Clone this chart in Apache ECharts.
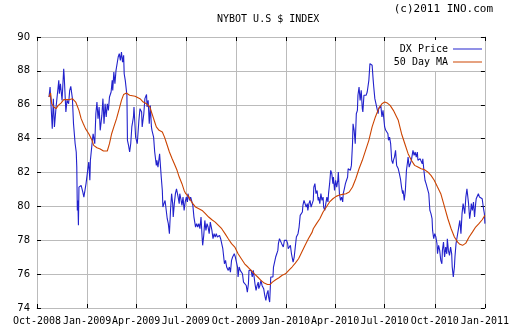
<!DOCTYPE html>
<html>
<head>
<meta charset="utf-8">
<script src="https://cdn.jsdelivr.net/npm/echarts@6/dist/echarts.min.js"></script>
<style>html,body{margin:0;padding:0;background:#fff}#c{width:512px;height:335px}</style>
</head>
<body>
<div id="c"></div>
<script>
const titleText = 'NYBOT U.S $ INDEX';
const creditText = '(c)2011 INO.com';
const seriesNames = ['DX Price', '50 Day MA'];
const monthNames = ['Jan','Feb','Mar','Apr','May','Jun','Jul','Aug','Sep','Oct','Nov','Dec'];
const xRange = ['2008-10-01', '2011-01-01'];
const yTicks = [74, 76, 78, 80, 82, 84, 86, 88, 90];

const dxPrice = [
['2008-10-23',86.46],['2008-10-25',87.05],['2008-10-29',84.59],['2008-10-31',86.36],
['2008-11-02',84.69],['2008-11-05',85.87],['2008-11-10',87.44],['2008-11-11',86.65],['2008-11-13',87.24],
['2008-11-16',86.26],['2008-11-19',88.13],['2008-11-20',87.64],['2008-11-23',85.57],['2008-11-25',86.26],
['2008-11-28',86.06],['2008-11-30',86.85],['2008-12-02',87.09],['2008-12-05',86.36],['2008-12-07',84.88],
['2008-12-10',83.70],['2008-12-12',83.21],['2008-12-13',82.32],['2008-12-14',79.76],['2008-12-15',80.35],
['2008-12-16',78.88],['2008-12-17',81.14],['2008-12-19',81.04],['2008-12-21',81.24],['2008-12-24',80.85],
['2008-12-26',80.55],['2008-12-28',80.94],['2008-12-30',81.34],
['2009-01-02',82.13],['2009-01-04',82.62],['2009-01-06',81.54],['2009-01-07',82.72],['2009-01-10',83.70],
['2009-01-12',84.29],['2009-01-13',84.09],['2009-01-15',83.70],['2009-01-17',85.47],['2009-01-19',86.16],
['2009-01-21',85.18],['2009-01-23',85.87],['2009-01-25',84.49],['2009-01-28',85.37],['2009-01-30',86.36],
['2009-02-01',84.88],['2009-02-03',86.06],['2009-02-05',85.28],['2009-02-07',86.06],['2009-02-09',85.67],
['2009-02-11',86.46],['2009-02-14',86.75],['2009-02-16',87.44],['2009-02-17',86.85],['2009-02-19',87.93],
['2009-02-21',87.24],['2009-02-23',88.03],['2009-02-25',88.03],['2009-02-27',88.82],
['2009-03-01',89.02],['2009-03-03',88.62],['2009-03-05',89.11],['2009-03-07',88.52],['2009-03-09',88.92],
['2009-03-10',87.83],['2009-03-12',87.44],['2009-03-15',86.56],['2009-03-16',83.90],['2009-03-18',83.60],
['2009-03-20',83.21],['2009-03-22',83.70],['2009-03-24',84.69],['2009-03-27',85.28],['2009-03-28',85.87],
['2009-03-30',85.96],['2009-03-31',84.09],
['2009-04-03',83.70],['2009-04-06',85.08],['2009-04-08',85.77],['2009-04-11',85.57],['2009-04-12',84.69],
['2009-04-15',85.47],['2009-04-17',86.36],['2009-04-20',86.61],['2009-04-21',85.87],['2009-04-23',86.26],
['2009-04-25',84.88],['2009-04-27',85.96],['2009-04-29',84.69],['2009-04-30',84.49],
['2009-05-03',84.09],['2009-05-05',83.21],['2009-05-08',82.42],['2009-05-09',82.72],['2009-05-11',82.32],
['2009-05-14',83.11],['2009-05-16',83.21],['2009-05-17',81.73],['2009-05-19',80.94],['2009-05-20',79.96],
['2009-05-22',80.16],['2009-05-24',80.35],['2009-05-26',80.35],['2009-05-28',79.27],['2009-05-30',78.98],
['2009-06-01',78.39],['2009-06-03',79.76],['2009-06-05',80.75],['2009-06-07',80.16],['2009-06-08',79.37],
['2009-06-10',80.16],['2009-06-12',80.75],['2009-06-14',81.04],['2009-06-17',80.55],['2009-06-19',80.16],
['2009-06-20',80.75],['2009-06-22',80.45],['2009-06-24',80.06],['2009-06-26',80.55],['2009-06-28',79.76],
['2009-06-30',80.26],
['2009-07-02',80.55],['2009-07-04',80.26],['2009-07-05',80.75],['2009-07-08',80.35],['2009-07-10',80.55],
['2009-07-11',80.45],['2009-07-14',80.06],['2009-07-16',79.37],['2009-07-19',78.78],['2009-07-21',78.98],
['2009-07-23',78.78],['2009-07-25',78.98],['2009-07-27',78.68],['2009-07-29',79.37],['2009-07-31',78.19],
['2009-08-01',77.70],['2009-08-03',78.29],['2009-08-05',79.17],['2009-08-07',78.58],['2009-08-09',78.98],
['2009-08-11',78.78],['2009-08-13',78.39],['2009-08-15',79.07],['2009-08-17',79.17],['2009-08-18',78.58],
['2009-08-20',78.09],['2009-08-22',78.39],['2009-08-24',78.19],['2009-08-26',78.39],['2009-08-28',78.19],
['2009-08-30',78.09],
['2009-09-01',78.29],['2009-09-03',78.09],['2009-09-05',78.00],['2009-09-07',77.50],['2009-09-08',77.20],
['2009-09-10',76.61],['2009-09-12',76.81],['2009-09-14',76.42],['2009-09-16',76.52],['2009-09-17',76.22],
['2009-09-19',76.42],['2009-09-21',76.12],['2009-09-23',76.81],['2009-09-25',77.01],['2009-09-26',77.11],
['2009-09-28',77.20],['2009-09-30',77.01],
['2009-10-02',76.91],['2009-10-04',76.42],['2009-10-05',75.83],['2009-10-07',76.42],['2009-10-09',76.22],
['2009-10-11',76.32],['2009-10-13',76.02],['2009-10-15',75.53],['2009-10-16',75.43],['2009-10-18',75.63],
['2009-10-20',75.33],['2009-10-22',74.94],['2009-10-24',75.43],['2009-10-25',76.22],['2009-10-27',76.32],
['2009-10-29',76.22],['2009-10-31',75.83],
['2009-11-02',76.22],['2009-11-03',76.12],['2009-11-05',75.43],['2009-11-07',75.04],['2009-11-09',75.33],
['2009-11-11',75.53],['2009-11-12',75.14],['2009-11-14',75.33],['2009-11-16',75.63],['2009-11-18',75.33],
['2009-11-20',75.43],['2009-11-21',75.14],['2009-11-23',74.74],['2009-11-25',74.45],['2009-11-27',74.84],
['2009-11-29',75.04],['2009-11-30',74.65],
['2009-12-02',74.35],['2009-12-04',75.83],['2009-12-06',75.93],['2009-12-08',75.83],['2009-12-09',76.42],
['2009-12-11',76.52],['2009-12-13',77.01],['2009-12-15',77.20],['2009-12-17',77.40],['2009-12-18',77.80],
['2009-12-20',78.09],['2009-12-22',78.19],['2009-12-24',77.80],['2009-12-26',77.89],['2009-12-27',77.60],
['2009-12-29',77.99],['2009-12-31',78.09],
['2010-01-02',77.99],['2010-01-04',77.80],['2010-01-05',77.50],['2010-01-07',77.40],['2010-01-09',77.70],
['2010-01-11',77.20],['2010-01-13',77.11],['2010-01-14',76.71],['2010-01-16',77.01],['2010-01-18',77.60],
['2010-01-20',78.19],['2010-01-22',78.29],['2010-01-23',78.39],['2010-01-25',78.78],['2010-01-27',79.47],
['2010-01-29',79.57],['2010-01-31',79.67],
['2010-02-01',80.06],['2010-02-03',80.35],['2010-02-05',80.26],['2010-02-07',79.96],['2010-02-09',80.16],
['2010-02-10',79.76],['2010-02-12',80.16],['2010-02-14',80.35],['2010-02-16',79.96],['2010-02-18',80.16],
['2010-02-20',80.35],['2010-02-21',81.14],['2010-02-23',81.34],['2010-02-25',80.75],['2010-02-27',80.94],
['2010-03-01',80.35],['2010-03-02',80.55],['2010-03-04',80.16],['2010-03-06',80.75],['2010-03-08',80.35],
['2010-03-10',80.55],['2010-03-11',79.96],['2010-03-13',79.76],['2010-03-15',80.16],['2010-03-17',80.55],
['2010-03-19',80.26],['2010-03-20',80.75],['2010-03-22',81.34],['2010-03-24',82.13],['2010-03-26',81.93],
['2010-03-28',81.34],['2010-03-29',81.73],['2010-03-31',80.94],
['2010-04-02',81.54],['2010-04-04',81.14],['2010-04-06',81.54],['2010-04-07',82.03],['2010-04-09',80.75],
['2010-04-11',80.35],['2010-04-13',80.55],['2010-04-15',80.26],['2010-04-16',80.75],['2010-04-18',81.04],
['2010-04-20',81.34],['2010-04-22',81.54],['2010-04-24',81.73],['2010-04-25',82.22],['2010-04-27',82.32],
['2010-04-29',82.13],
['2010-05-01',82.42],['2010-05-03',83.70],['2010-05-04',84.88],['2010-05-06',84.49],['2010-05-08',83.70],
['2010-05-10',85.47],['2010-05-12',85.67],['2010-05-13',86.56],['2010-05-15',87.05],['2010-05-17',86.26],
['2010-05-19',86.85],['2010-05-21',85.77],['2010-05-22',85.57],['2010-05-24',86.56],['2010-05-26',86.65],
['2010-05-28',86.56],['2010-05-30',86.75],['2010-05-31',86.65],
['2010-06-02',87.44],['2010-06-04',88.43],['2010-06-06',88.52],['2010-06-08',88.33],['2010-06-10',87.44],
['2010-06-11',87.05],['2010-06-13',86.36],['2010-06-15',86.26],['2010-06-17',85.77],['2010-06-19',85.47],
['2010-06-20',85.77],['2010-06-22',85.87],['2010-06-24',85.96],['2010-06-26',85.28],['2010-06-28',85.67],
['2010-06-29',85.77],
['2010-07-01',84.69],['2010-07-03',84.49],['2010-07-05',84.59],['2010-07-07',84.29],['2010-07-08',83.90],
['2010-07-10',84.09],['2010-07-12',83.70],['2010-07-14',82.72],['2010-07-16',82.52],['2010-07-17',82.72],
['2010-07-19',82.91],['2010-07-21',83.31],['2010-07-23',82.42],['2010-07-25',82.52],['2010-07-26',82.22],
['2010-07-28',81.93],['2010-07-30',81.63],
['2010-08-01',81.14],['2010-08-03',80.75],['2010-08-04',80.94],['2010-08-06',80.35],['2010-08-08',80.94],
['2010-08-10',82.13],['2010-08-12',82.62],['2010-08-13',82.91],['2010-08-15',82.32],['2010-08-17',82.42],
['2010-08-19',82.72],['2010-08-21',83.11],['2010-08-22',83.31],['2010-08-24',83.01],['2010-08-26',83.21],
['2010-08-28',82.91],['2010-08-30',83.21],['2010-08-31',82.72],
['2010-09-02',82.72],['2010-09-04',82.81],['2010-09-06',82.91],['2010-09-08',82.52],['2010-09-09',82.81],
['2010-09-11',82.13],['2010-09-13',81.54],['2010-09-15',81.34],['2010-09-17',81.44],['2010-09-18',81.24],
['2010-09-20',80.75],['2010-09-22',79.76],['2010-09-24',79.57],['2010-09-26',79.27],['2010-09-27',78.58],
['2010-09-29',78.09],
['2010-10-01',78.39],['2010-10-03',78.19],['2010-10-05',77.80],['2010-10-06',77.20],['2010-10-08',77.70],
['2010-10-10',77.40],['2010-10-12',76.81],['2010-10-14',76.61],['2010-10-15',77.40],['2010-10-17',77.89],
['2010-10-19',77.01],['2010-10-21',77.60],['2010-10-23',77.20],['2010-10-24',78.09],['2010-10-26',77.40],
['2010-10-28',77.11],['2010-10-30',77.60],
['2010-11-01',77.20],['2010-11-02',76.42],['2010-11-04',75.83],['2010-11-06',76.42],['2010-11-07',77.01],
['2010-11-09',77.80],['2010-11-11',78.19],['2010-11-13',78.58],['2010-11-15',78.98],['2010-11-16',79.17],
['2010-11-18',78.39],['2010-11-20',79.57],['2010-11-22',80.16],['2010-11-24',79.76],['2010-11-25',79.57],
['2010-11-27',80.55],['2010-11-29',81.04],['2010-11-30',81.14],
['2010-12-02',80.16],['2010-12-04',79.27],['2010-12-06',79.76],['2010-12-07',80.16],['2010-12-09',79.76],
['2010-12-11',80.26],['2010-12-13',79.37],['2010-12-15',80.16],['2010-12-16',80.45],['2010-12-18',80.55],
['2010-12-20',80.75],['2010-12-22',80.55],['2010-12-24',80.45],['2010-12-25',80.65],['2010-12-27',80.45],
['2010-12-29',79.96],['2010-12-31',79.57],['2011-01-01',78.98]
];

const ma50 = [
['2008-10-23',86.46],['2008-10-26',86.69],['2008-10-28',86.06],['2008-11-01',85.87],['2008-11-05',85.77],
['2008-11-09',85.96],['2008-11-14',86.10],['2008-11-19',86.30],['2008-11-23',86.30],['2008-11-29',86.30],
['2008-12-05',86.36],['2008-12-11',86.16],['2008-12-14',86.06],['2008-12-17',85.67],['2008-12-21',85.18],
['2008-12-25',84.88],['2008-12-29',84.59],['2009-01-04',84.29],['2009-01-10',83.90],['2009-01-13',83.60],
['2009-01-19',83.46],['2009-01-25',83.39],['2009-01-31',83.27],['2009-02-07',83.27],['2009-02-11',83.70],
['2009-02-15',84.29],['2009-02-19',84.69],['2009-02-24',85.18],['2009-03-01',85.77],['2009-03-05',86.26],
['2009-03-09',86.61],['2009-03-14',86.69],['2009-03-20',86.56],['2009-03-30',86.50],['2009-04-02',86.40],
['2009-04-08',86.36],['2009-04-14',86.16],['2009-04-20',86.06],['2009-04-26',85.87],['2009-04-29',85.57],
['2009-05-02',85.28],['2009-05-05',84.98],['2009-05-08',84.69],['2009-05-13',84.49],['2009-05-19',84.39],
['2009-05-23',84.09],['2009-05-26',83.80],['2009-06-01',83.21],['2009-06-06',82.81],['2009-06-10',82.52],
['2009-06-15',82.13],['2009-06-19',81.73],['2009-06-24',81.34],['2009-06-28',80.94],['2009-07-01',80.75],
['2009-07-06',80.59],['2009-07-10',80.35],['2009-07-14',80.16],['2009-07-19',79.96],['2009-07-25',79.86],
['2009-07-31',79.76],['2009-08-06',79.57],['2009-08-12',79.37],['2009-08-18',79.21],['2009-08-24',79.07],
['2009-08-30',78.88],['2009-09-05',78.68],['2009-09-11',78.39],['2009-09-17',78.09],['2009-09-23',77.80],
['2009-09-29',77.60],['2009-10-05',77.20],['2009-10-11',76.91],['2009-10-17',76.61],['2009-10-23',76.42],
['2009-10-29',76.22],['2009-11-04',76.02],['2009-11-10',75.83],['2009-11-16',75.63],['2009-11-22',75.47],
['2009-11-28',75.39],['2009-12-03',75.39],['2009-12-07',75.53],['2009-12-13',75.67],['2009-12-19',75.79],
['2009-12-25',75.93],['2009-12-31',76.02],['2010-01-06',76.22],['2010-01-12',76.42],['2010-01-18',76.65],
['2010-01-24',76.91],['2010-01-30',77.30],['2010-02-05',77.70],['2010-02-11',78.09],['2010-02-18',78.48],
['2010-02-20',78.68],['2010-02-26',78.98],['2010-03-04',79.27],['2010-03-10',79.67],['2010-03-16',79.96],
['2010-03-22',80.26],['2010-03-28',80.45],['2010-04-03',80.59],['2010-04-09',80.67],['2010-04-15',80.71],
['2010-04-21',80.75],['2010-04-27',80.85],['2010-05-03',81.14],['2010-05-09',81.63],['2010-05-15',82.22],
['2010-05-21',82.72],['2010-05-27',83.31],['2010-06-02',83.90],['2010-06-08',84.69],['2010-06-14',85.28],
['2010-06-20',85.77],['2010-06-26',86.06],['2010-07-01',86.16],['2010-07-06',86.10],['2010-07-11',85.96],
['2010-07-17',85.67],['2010-07-23',85.28],['2010-07-26',85.08],['2010-08-01',84.29],['2010-08-07',83.70],
['2010-08-13',83.11],['2010-08-19',82.72],['2010-08-25',82.42],['2010-08-31',82.32],['2010-09-06',82.22],
['2010-09-12',82.17],['2010-09-18',82.03],['2010-09-24',81.83],['2010-09-30',81.54],['2010-10-06',81.14],
['2010-10-12',80.75],['2010-10-19',79.96],['2010-10-25',79.27],['2010-10-31',78.68],['2010-11-06',78.19],
['2010-11-12',77.89],['2010-11-16',77.76],['2010-11-21',77.70],['2010-11-27',77.83],['2010-12-03',78.19],
['2010-12-09',78.48],['2010-12-15',78.78],['2010-12-21',78.98],['2010-12-27',79.21],['2011-01-01',79.47]
];

const chart = echarts.init(document.getElementById('c'), null, {renderer: 'canvas'});
const mono = 'DejaVu Sans Mono';
const gridCol = '#bbbbbb';
const fmt = v => { const d = new Date(v); return monthNames[d.getMonth()] + '-' + d.getFullYear(); };
const xBase = {
  type: 'time', min: xRange[0], max: xRange[1], splitNumber: 9,
  minInterval: 89 * 86400000, maxInterval: 92 * 86400000
};
chart.setOption({
  animation: false,
  backgroundColor: '#ffffff',
  title: { text: titleText, left: 212, top: 9,
    textStyle: { fontFamily: mono, fontSize: 10, fontWeight: 'normal', color: '#000' } },
  graphic: [{ type: 'text', right: 19, top: 4,
    style: { text: creditText, font: '11px ' + mono, fill: '#000' } }],
  legend: {
    orient: 'vertical', align: 'right', right: 27, top: 40,
    backgroundColor: '#ffffff', padding: [3, 3, 3, 6], itemGap: 1,
    icon: 'rect', itemWidth: 29, itemHeight: 1,
    textStyle: { fontFamily: mono, fontSize: 10, color: '#000', lineHeight: 12 },
    data: seriesNames
  },
  grid: { left: 37, right: 19, top: 37, bottom: 27 },
  xAxis: [
    Object.assign({}, xBase, {
      position: 'bottom',
      axisLine: { show: true, lineStyle: { color: gridCol } },
      axisTick: { show: true, inside: true, length: 4, lineStyle: { color: '#000' } },
      splitLine: { show: true, lineStyle: { color: gridCol, width: 1 } },
      axisLabel: { formatter: fmt, margin: 8, fontFamily: mono, fontSize: 10, color: '#000',
        showMinLabel: true, showMaxLabel: true, hideOverlap: false }
    }),
    Object.assign({}, xBase, {
      position: 'top',
      axisLine: { show: true, lineStyle: { color: gridCol } },
      axisTick: { show: true, inside: true, length: 4, lineStyle: { color: '#000' } },
      splitLine: { show: false },
      axisLabel: { show: false }
    })
  ],
  yAxis: [
    { type: 'value', min: yTicks[0], max: yTicks[yTicks.length - 1], interval: 2, position: 'left',
      axisLine: { show: true, lineStyle: { color: gridCol } },
      axisTick: { show: true, inside: true, length: 4, lineStyle: { color: '#000' } },
      splitLine: { show: true, lineStyle: { color: gridCol, width: 1 } },
      axisLabel: { margin: 7, fontFamily: 'DejaVu Sans', fontSize: 10, color: '#000' } },
    { type: 'value', min: yTicks[0], max: yTicks[yTicks.length - 1], interval: 2, position: 'right',
      axisLine: { show: true, lineStyle: { color: gridCol } },
      axisTick: { show: true, inside: true, length: 4, lineStyle: { color: '#000' } },
      splitLine: { show: false }, axisLabel: { show: false } }
  ],
  series: [
    { name: seriesNames[0], type: 'line', data: dxPrice, showSymbol: false, symbol: 'none',
      color: '#2222cc', lineStyle: { width: 1.1, color: '#2222cc' }, z: 3 },
    { name: seriesNames[1], type: 'line', data: ma50, showSymbol: false, symbol: 'none',
      color: '#cc4400', lineStyle: { width: 1.1, color: '#cc4400' }, z: 4 }
  ]
});
</script>
</body>
</html>
